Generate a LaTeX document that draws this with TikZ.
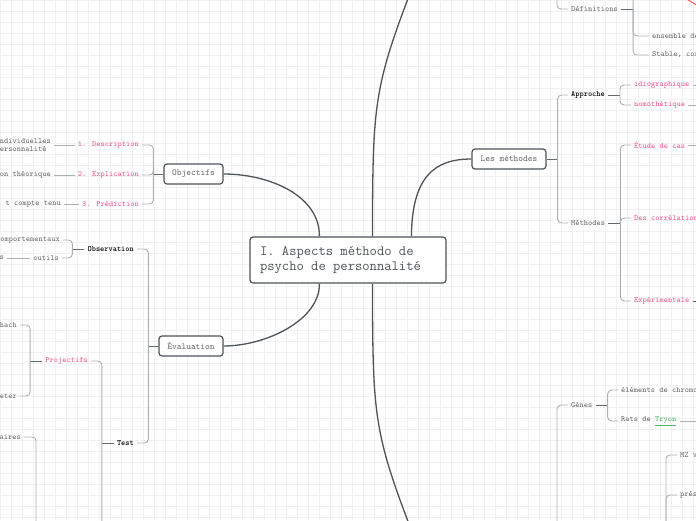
\documentclass[tikz,border=0pt]{standalone}
\usepackage{fontspec}
\usepackage{xcolor}
\usetikzlibrary{positioning}

\definecolor{inkgray}{RGB}{78,84,92}
\definecolor{branchgray}{RGB}{172,176,181}
\definecolor{stubgray}{RGB}{100,106,113}
\definecolor{txtgray}{RGB}{105,105,105}
\definecolor{hotpink}{RGB}{238,88,140}
\definecolor{linkgreen}{RGB}{80,180,110}
\definecolor{gridgray}{RGB}{241,241,243}

\begin{document}
\begin{tikzpicture}[
    x=1pt, y=-1pt,
    topic/.style={draw=inkgray, line width=1.2pt, rounded corners=3pt, fill=white, text=txtgray, font=\ttfamily\fontsize{9}{11}\selectfont, minimum height=20pt, inner sep=0pt},
    lbl/.style={font=\ttfamily\fontsize{8}{8.5}\selectfont, text=txtgray, inner xsep=3pt, inner ysep=1pt},
    pinklbl/.style={lbl, text=hotpink},
    boldlbl/.style={lbl, font=\ttfamily\bfseries\fontsize{8}{8.5}\selectfont, text=black},
    link/.style={draw=inkgray, line width=1.3pt},
    stub/.style={draw=stubgray, line width=1pt},
    branch/.style={draw=branchgray, line width=0.9pt, rounded corners=4pt},
    gridline/.style={draw=gridgray, line width=0.5pt}
]
\useasboundingbox (0,0) rectangle (696,520);
\clip (0,0) rectangle (696,520);
\fill[white] (0,0) rectangle (696,520);
\foreach \gx in {0,11,...,693} \draw[gridline] (\gx,0) -- (\gx,520);
\foreach \gy in {0,11,...,517} \draw[gridline] (0,\gy) -- (696,\gy);

% central topic and main branches
\node[topic, minimum width=196pt, minimum height=46pt, text width=176pt, align=left, text=inkgray, font=\ttfamily\fontsize{14.2}{15.5}\selectfont] (central) at (348,260) {\spaceskip=0pt\xspaceskip=0pt\relax I. Aspects méthodo de\\psycho de personnalité};
\node[topic, minimum width=59pt] (objectifs) at (193.5,174) {Objectifs};
\node[topic, minimum width=64pt] (evaluation) at (191,346) {Évaluation};
\node[topic, minimum width=74pt] (methodes) at (509,159) {Les méthodes};
\coordinate (topin) at (432,-63);
\coordinate (botin) at (432,583);

\draw[link] ([xshift=123pt]central.north west) .. controls (373,87) .. (topin);
\draw[link] ([xshift=123pt]central.south west) .. controls (373,433) .. (botin);
\draw[link] ([xshift=162pt]central.north west) .. controls (412,176) and (435,159) .. (methodes.west);
\draw[link] ([xshift=70pt]central.north west) .. controls (320,196) and (270,174) .. (objectifs.east);
\draw[link] ([xshift=70pt]central.south west) .. controls (320,320) and (266,346) .. (evaluation.east);

% Objectifs
\node[pinklbl, anchor=east] (desc) at (142,145) {1. Description};
\node[pinklbl, anchor=east] (expl) at (142,175) {2. Explication};
\node[pinklbl, anchor=east] (pred) at (142,204) {3. Prédiction};
\node[lbl, anchor=east, align=left] (gdesc) at (54,145) {ndividuelles\\ersonnalité};
\node[lbl, anchor=east] (gexpl) at (54,175) {on théorique};
\node[lbl, anchor=east] (gpred) at (64,204) {t compte tenu};
\draw[stub] (objectifs.west) -- ++(-10,0) coordinate (objj);
\foreach \n in {desc,expl,pred} \draw[branch] (objj) |- (\n.east);
\draw[branch] (desc.west) -- (gdesc.east);
\draw[branch] (expl.west) -- (gexpl.east);
\draw[branch] (pred.west) -- (gpred.east);

% Evaluation
\node[boldlbl, anchor=east] (obs) at (137,249) {Observation};
\node[boldlbl, anchor=east] (test) at (137,443) {Test};
\node[lbl, anchor=east] (comport) at (63,240) {comportementaux};
\node[lbl, anchor=east] (outils) at (62,258) {outils};
\node[lbl, anchor=east] (outs) at (7,258) {s};
\node[pinklbl, anchor=east] (proj) at (91,361) {Projectifs};
\node[lbl, anchor=east] (hach) at (20,325) {hach};
\node[lbl, anchor=east] (eter) at (20,396) {eter};
\node[lbl, anchor=east] (aires) at (24,437) {aires};
\coordinate (inv) at (92,560);
\coordinate (invw) at (46,548);
\draw[stub] (evaluation.west) -- ++(-10,0) coordinate (evalj);
\draw[branch] (evalj) |- (obs.east);
\draw[branch] (evalj) |- (test.east);
\draw[stub] (obs.west) -- ++(-12,0) coordinate (obsj);
\draw[branch] (obsj) |- (comport.east);
\draw[branch] (obsj) |- (outils.east);
\draw[branch] (outils.west) -- (outs.east);
\draw[stub] (test.west) -- ++(-12,0) coordinate (testj);
\draw[branch] (testj) |- (proj.east);
\draw[branch] (testj) |- (inv);
\draw[stub] (proj.west) -- ++(-12,0) coordinate (projj);
\draw[branch] (projj) |- (hach.east);
\draw[branch] (projj) |- (eter.east);
\draw[stub] (invw) -- ++(-10,0) coordinate (invj);
\draw[branch] (invj) |- (aires.east);

% Les methodes
\node[boldlbl, anchor=west] (approche) at (568,95) {Approche};
\node[lbl, anchor=west] (meth) at (568,223) {Méthodes};
\node[pinklbl, anchor=west] (idio) at (631,85) {idiographique};
\node[pinklbl, anchor=west] (nomo) at (631,105) {nomothétique};
\node[pinklbl, anchor=west] (etude) at (631,145) {Étude de cas};
\node[pinklbl, anchor=west] (corr) at (631,218) {Des corrélation};
\node[pinklbl, anchor=west] (exper) at (631,301) {Expérimentale};
\draw[stub] (methodes.east) -- ++(11,0) coordinate (methj);
\draw[branch] (methj) |- (approche.west);
\draw[branch] (methj) |- (meth.west);
\draw[stub] (approche.east) -- ++(12,0) coordinate (appj);
\draw[branch] (appj) |- (idio.west);
\draw[branch] (appj) |- (nomo.west);
\draw[stub] (meth.east) -- ++(12,0) coordinate (mj);
\draw[branch] (mj) |- (etude.west);
\draw[branch] (mj) |- (corr.west);
\draw[branch] (mj) |- (exper.west);
\draw[branch] (idio.east) -- ++(20,0) coordinate (idioout);
\draw[branch] (nomo.east) -- ++(20,0) coordinate (nomoout);
\draw[branch] (etude.east) -- ++(20,0) coordinate (etudeout);
\draw[stub] (exper.east) -- ++(20,0) coordinate (experout);

% top topic (off view)
\coordinate (topw) at (546,-40);
\coordinate (defup) at (649,-25);
\node[lbl, anchor=west] (def) at (568,9) {Définitions};
\node[lbl, anchor=west] (ens) at (649,36) {ensemble de};
\node[lbl, anchor=west] (stable) at (649,55) {Stable, cor};
\draw[stub] (topw) -- ++(11,0) coordinate (topj);
\draw[branch] (topj) |- (def.west);
\draw[stub] (def.east) -- ++(12,0) coordinate (defj);
\draw[branch] (defj) |- (defup);
\draw[branch] (defj) |- (ens.west);
\draw[branch] (defj) |- (stable.west);
\coordinate (rela) at (685,-2);
\coordinate (relb) at (698,6);
\draw[red!75, line width=0.8pt] (rela) -- (relb);

% bottom topic (off view)
\coordinate (botw) at (546,560);
\coordinate (twinw) at (655,540);
\node[lbl, anchor=west] (genes) at (568,405) {Gènes};
\node[lbl, anchor=west] (elem) at (618,390) {éléments de chromo};
\node[lbl, anchor=west] (rats) at (618,421) {Rats de {\color{linkgreen}\underline{Tryon}}};
\node[lbl, anchor=west] (mz) at (677,455) {MZ v};
\node[lbl, anchor=west] (pres) at (677,495) {prés};
\draw[stub] (botw) -- ++(11,0) coordinate (botj);
\draw[branch] (botj) |- (genes.west);
\draw[stub] (genes.east) -- ++(12,0) coordinate (genesj);
\draw[branch] (genesj) |- (elem.west);
\draw[branch] (genesj) |- (rats.west);
\draw[branch] (rats.east) -- ++(20,0) coordinate (ratsout);
\draw[stub] (twinw) -- ++(11,0) coordinate (twinj);
\draw[branch] (twinj) |- (mz.west);
\draw[branch] (twinj) |- (pres.west);
\end{tikzpicture}
\end{document}
